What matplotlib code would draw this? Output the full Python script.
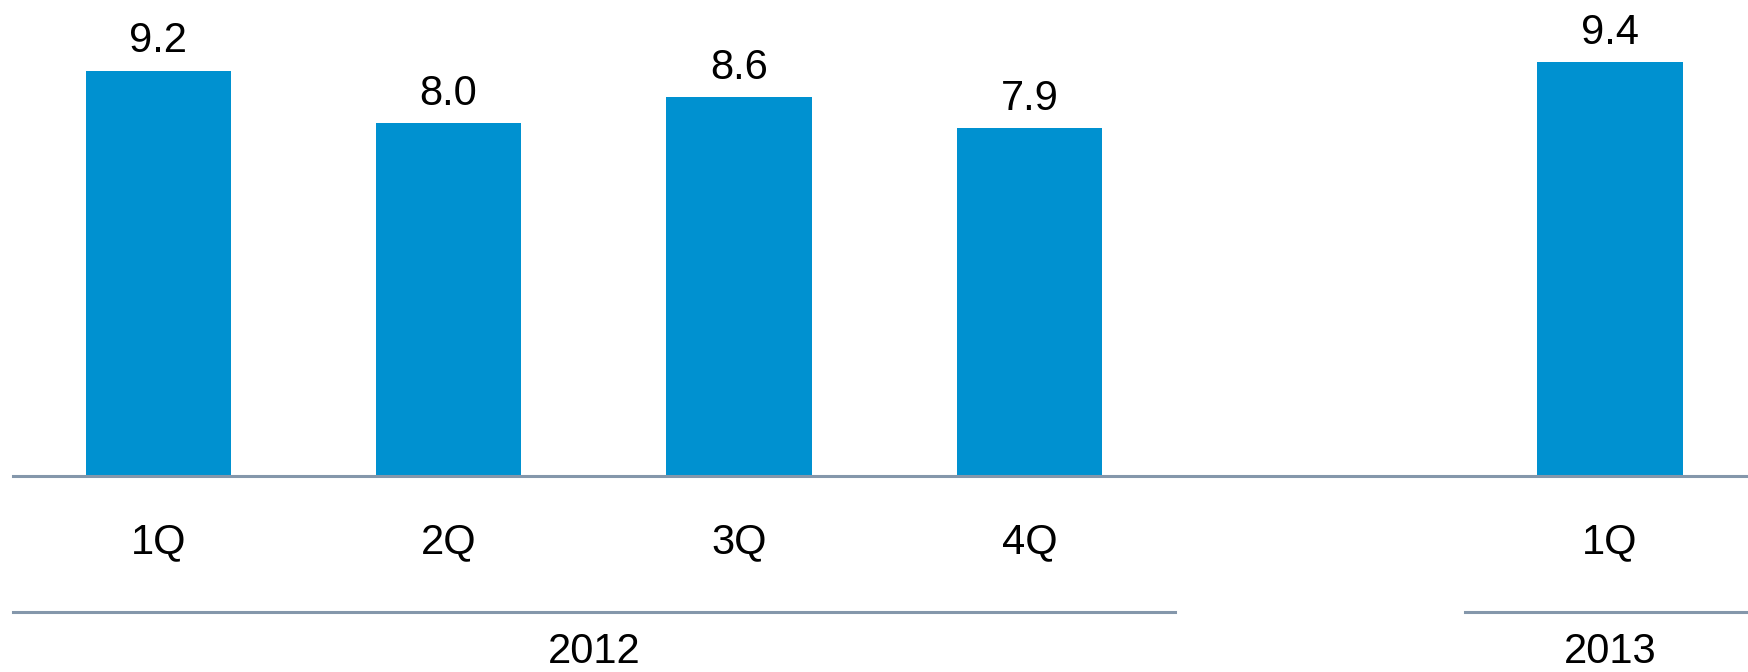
import matplotlib.pyplot as plt
import matplotlib.transforms as mtransforms

plt.rcParams['font.family'] = ['Liberation Sans', 'DejaVu Sans']

quarters = ['1Q', '2Q', '3Q', '4Q', '1Q']
years = ['2012', '2012', '2012', '2012', '2013']
values = [9.2, 8.0, 8.6, 7.9, 9.4]

bar_color = '#0091D0'
line_color = '#8497AB'

# x slots: one empty slot between years
x = []
pos = 0
for i, y in enumerate(years):
    if i > 0 and y != years[i - 1]:
        pos += 1
    x.append(pos)
    pos += 1

xmax = 5.475

fig = plt.figure(figsize=(17.48, 6.72), dpi=100)
ax = fig.add_axes([13 / 1748, 0.2917, 1735 / 1748, 0.7083])

ax.bar(x, values, width=0.5, color=bar_color, zorder=2)
for xi, v in zip(x, values):
    ax.annotate(f'{v:.1f}', (xi, v), xytext=(0, 13), textcoords='offset points',
                ha='center', va='baseline', fontsize=30)

ax.set_xlim(-0.5, xmax)
ax.set_ylim(0, 10.8)
ax.axis('off')

trans = mtransforms.blended_transform_factory(ax.transData, ax.transAxes)

# baseline
ax.plot([-0.5, xmax], [0, 0], color=line_color, lw=2.2, transform=trans,
        clip_on=False, zorder=3)

for xi, q in zip(x, quarters):
    ax.text(xi, -0.162, q, ha='center', va='baseline', fontsize=30, transform=trans)

# year groups
groups = {}
for xi, y in zip(x, years):
    groups.setdefault(y, []).append(xi)
for y, xs in groups.items():
    left = min(xs) - 0.5
    right = min(max(xs) + 0.5, xmax)
    ax.plot([left, right], [-0.2857, -0.2857], color=line_color, lw=2.2,
            transform=trans, clip_on=False)
    ax.text((min(xs) + max(xs)) / 2, -0.393, y, ha='center', va='baseline',
            fontsize=30, transform=trans)

fig.savefig('out.png', dpi=100)
